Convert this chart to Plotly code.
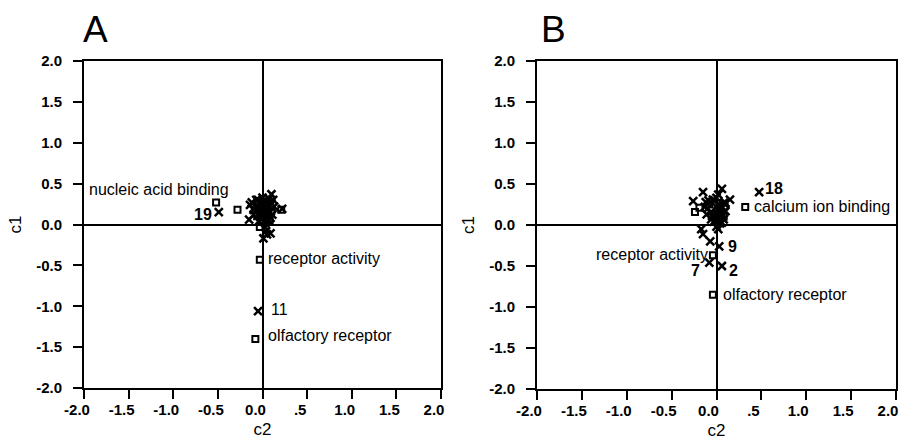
import plotly.graph_objects as go

# ---------------- DATA ----------------
x_ticks = [-2.0, -1.5, -1.0, -0.5, 0.0, 0.5, 1.0, 1.5, 2.0]
x_tick_labels = ["-2.0", "-1.5", "-1.0", "-0.5", "0.0", ".5", "1.0", "1.5", "2.0"]
y_ticks = [-2.0, -1.5, -1.0, -0.5, 0.0, 0.5, 1.0, 1.5, 2.0]
y_tick_labels = ["-2.0", "-1.5", "-1.0", "-0.5", "0.0", "0.5", "1.0", "1.5", "2.0"]

# Panel A: crosses (c2, c1)
a_cross_c2 = [-0.12, -0.05, 0.00, 0.10, 0.12, 0.22, -0.15, -0.08, 0.03, 0.07, 0.02,
              -0.03, 0.09, 0.05, -0.01, 0.04, 0.09, 0.01, 0.06, -0.10, 0.00, 0.05,
              -0.06, 0.04, 0.08, -0.02, 0.02, 0.06, 0.03, -0.04,
              -0.14, -0.10, 0.11, 0.13, 0.00, -0.07, 0.07, 0.01, -0.04, 0.10, 0.05, 0.03,
              -0.49, -0.05]
a_cross_c1 = [0.27, 0.30, 0.33, 0.37, 0.30, 0.19, 0.06, 0.22, 0.24, 0.15, 0.10,
              0.14, 0.08, 0.04, 0.19, -0.08, -0.11, -0.17, 0.20, 0.12, 0.25, 0.28,
              0.18, 0.12, 0.22, 0.09, 0.17, 0.07, 0.02, 0.04,
              0.24, 0.18, 0.12, 0.22, 0.07, 0.30, 0.32, 0.29, 0.21, 0.26, -0.12, -0.03,
              0.15, -1.06]
# Panel A: squares (c2, c1)
a_sq_c2 = [-0.28, -0.03, 0.00, 0.05, 0.08, -0.06, 0.03, 0.10, -0.02, 0.21,
           -0.52, -0.03, -0.08]
a_sq_c1 = [0.18, -0.03, 0.16, 0.12, 0.05, 0.10, 0.27, 0.17, 0.05, 0.18,
           0.27, -0.43, -1.40]

# Panel A labels
a_labels = ["nucleic acid binding", "19", "receptor activity", "11", "olfactory receptor"]
a_label_c2 = [-0.52, -0.49, -0.03, -0.05, -0.08]
a_label_c1 = [0.27, 0.15, -0.43, -1.06, -1.40]

# Panel B: crosses (c2, c1)
b_cross_c2 = [-0.15, -0.26, 0.02, 0.06, 0.15, -0.04, -0.10, 0.00, 0.05, -0.02, 0.03,
              0.07, -0.06, -0.17, -0.15, 0.02, -0.07, -0.12, 0.10,
              -0.01, 0.04, -0.05, 0.01, 0.05, -0.03, 0.02,
              -0.09, 0.08, -0.11, 0.10, -0.06, 0.06, 0.00, -0.13, 0.03, 0.00, 0.08,
              0.475, 0.03, -0.08, 0.06]
b_cross_c1 = [0.40, 0.29, 0.37, 0.44, 0.31, 0.31, 0.20, 0.22, 0.15, 0.10, 0.05,
              0.12, 0.16, -0.05, -0.11, -0.05, -0.20, 0.28, 0.27,
              0.06, 0.02, 0.11, 0.14, 0.19, 0.04, 0.09,
              0.30, 0.27, 0.13, 0.17, 0.07, 0.03, 0.33, 0.22, 0.25, -0.02, 0.07,
              0.40, -0.26, -0.46, -0.50]
# Panel B: squares (c2, c1)
b_sq_c2 = [-0.24, -0.19, 0.09, -0.03, 0.04, 0.08, -0.08, 0.01, 0.32, -0.04, -0.04]
b_sq_c1 = [0.16, 0.21, 0.23, 0.13, 0.08, 0.10, 0.25, 0.18, 0.22, -0.37, -0.85]

# Panel B labels
b_labels = ["18", "calcium ion binding", "9", "receptor activity", "7", "2", "olfactory receptor"]
b_label_c2 = [0.475, 0.32, 0.03, -0.04, -0.08, 0.06, -0.04]
b_label_c1 = [0.40, 0.22, -0.26, -0.37, -0.46, -0.50, -0.85]

# ---------------- STYLE ----------------
FONT = "Liberation Sans, Arial, Helvetica, sans-serif"

# label placement styles: (xanchor, xshift, yshift, bold)
a_label_style = [("right", 15, 13, False), ("right", -5, -2, True), ("left", 6, 1, False),
                 ("left", 11, 2, False), ("left", 11, 3, False)]
b_label_style = [("left", 4, 4, True), ("left", 7, 0, False), ("left", 7, 0, True),
                 ("right", -3, 1, False), ("right", -7, -8, True), ("left", 5, -4, True),
                 ("left", 8, 0, False)]

# page body margin is removed by a post script, so figure pixels == page pixels
OFF = 0
W, H = 903 - OFF, 448 - OFF

def px_x(p):
    return (p - OFF) / W

def px_y(p):
    return 1 - (p - OFF) / H

fig = go.Figure()

def add_panel(xa, ya, cx, cy, sx, sy):
    fig.add_trace(go.Scatter(x=cx, y=cy, mode="markers", xaxis=xa, yaxis=ya,
                             marker=dict(symbol="x-thin", size=8, color="black",
                                         line=dict(width=2.5, color="black")),
                             showlegend=False, hoverinfo="skip"))
    fig.add_trace(go.Scatter(x=sx, y=sy, mode="markers", xaxis=xa, yaxis=ya,
                             marker=dict(symbol="square-open", size=6, color="black",
                                         line=dict(width=2, color="black")),
                             showlegend=False, hoverinfo="skip"))

add_panel("x", "y", a_cross_c2, a_cross_c1, a_sq_c2, a_sq_c1)
add_panel("x2", "y2", b_cross_c2, b_cross_c1, b_sq_c2, b_sq_c1)

def axis_common():
    return dict(range=[-2, 2], showgrid=False, zeroline=True, zerolinecolor="black",
                zerolinewidth=2, showline=True, mirror=True, linecolor="black", linewidth=2,
                ticks="outside", ticklen=9, tickwidth=2, tickcolor="black",
                tickfont=dict(family=FONT, size=15, color="black", weight="bold"),
                ticklabeloverflow="allow",
                fixedrange=True, automargin=False)

title_font = dict(family=FONT, size=17, color="black")

layout = dict(
    template="none",
    width=W, height=H, margin=dict(l=0, r=0, t=0, b=0, pad=0),
    paper_bgcolor="white", plot_bgcolor="white",
    hovermode=False,
    xaxis=dict(**axis_common(), domain=[px_x(84), px_x(441)], anchor="y",
               tickvals=x_ticks, ticktext=x_tick_labels, ticklabelstandoff=-2,
               ticklabelshift=-7,
               title=dict(text="c2", font=title_font, standoff=6)),
    yaxis=dict(**axis_common(), domain=[px_y(388), px_y(61)], anchor="x",
               tickvals=y_ticks, ticktext=y_tick_labels, ticklabelstandoff=8,
               title=dict(text="c1", font=title_font, standoff=10)),
    xaxis2=dict(**axis_common(), domain=[px_x(537), px_x(896)], anchor="y2",
                tickvals=x_ticks, ticktext=x_tick_labels, ticklabelstandoff=-2,
                ticklabelshift=-8,
                title=dict(text="c2", font=title_font, standoff=6)),
    yaxis2=dict(**axis_common(), domain=[px_y(389), px_y(61)], anchor="x2",
                tickvals=y_ticks, ticktext=y_tick_labels, ticklabelstandoff=8,
                title=dict(text="c1", font=title_font, standoff=10)),
)
fig.update_layout(**layout)

annotations = []
for xr, yr, texts, xs, ys, styles in [("x", "y", a_labels, a_label_c2, a_label_c1, a_label_style),
                                       ("x2", "y2", b_labels, b_label_c2, b_label_c1, b_label_style)]:
    for t, xv, yv, (anc, dx, dy, bold) in zip(texts, xs, ys, styles):
        annotations.append(dict(x=xv, y=yv, xref=xr, yref=yr, text=t, showarrow=False,
                                xanchor=anc, yanchor="middle", xshift=dx, yshift=dy,
                                font=dict(family=FONT, size=16,
                                          color="black", weight="bold" if bold else "normal")))

for letter, left_px in [("A", 82), ("B", 540)]:
    annotations.append(dict(x=px_x(left_px), y=px_y(8), xref="paper", yref="paper", text=letter,
                            showarrow=False, xanchor="left", yanchor="top", borderpad=0,
                            font=dict(family=FONT, size=37, color="black")))
fig.update_layout(annotations=annotations)

fig.write_html("out.html", config={"displayModeBar": False, "staticPlot": True},
               post_script="document.body.style.margin='0';document.body.style.overflow='hidden';")
